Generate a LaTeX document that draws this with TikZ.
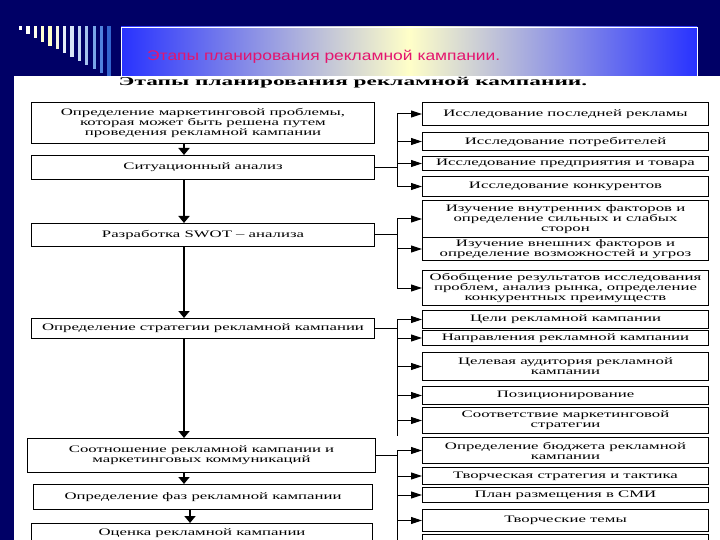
\documentclass[tikz,border=0pt]{standalone}
\usepackage{fontspec}
\setmainfont{Liberation Serif}
\newfontfamily\arialf{Liberation Sans}
\usepackage{graphicx}
\usetikzlibrary{arrows.meta}
\definecolor{navy}{RGB}{0,0,102}
\definecolor{pinkt}{RGB}{228,20,110}
\definecolor{bannerblue}{RGB}{40,50,255}
\definecolor{banneryel}{RGB}{255,255,200}
\definecolor{s0}{RGB}{255,255,255}
\definecolor{s1}{RGB}{255,255,250}
\definecolor{s2}{RGB}{255,255,235}
\definecolor{s3}{RGB}{255,255,210}
\definecolor{s4}{RGB}{255,255,200}
\definecolor{s5}{RGB}{245,245,225}
\definecolor{s6}{RGB}{230,238,248}
\definecolor{s7}{RGB}{215,228,246}
\definecolor{s8}{RGB}{195,215,242}
\definecolor{s9}{RGB}{165,195,238}
\definecolor{s10}{RGB}{120,165,232}
\definecolor{s11}{RGB}{80,130,222}
\definecolor{s12}{RGB}{50,100,205}
\newcommand\sx[1]{\scalebox{1.68}[1]{#1}}
\begin{document}
\begin{tikzpicture}[x=1bp,y=-1bp,
  bx/.style={draw=black, line width=1bp, inner sep=0pt, anchor=north west, align=center,
             font=\fontsize{10}{10}\selectfont},
  mainarrow/.style={line width=2.6bp, -{Triangle[width=11bp,length=7bp]}},
  brline/.style={line width=1bp},
  brarrow/.style={line width=1bp, -{Triangle[width=7bp,length=11bp]}}]
\useasboundingbox (0,0) rectangle (720,540);
\clip (0,0) rectangle (720,540);
% background
\fill[navy] (0,0) rectangle (720,540);
% stripes
\foreach \i in {0,...,12}{
  \fill[s\i] ({19+7.35*\i},26) rectangle ({22.3+7.35*\i},{30+3.9*\i});
}
% banner
\shade[left color=bannerblue, right color=bannerblue, middle color=banneryel] (121,27) rectangle (697,77);
\draw[white, line width=0.8bp] (121,77) -- (121,27) -- (697,27) -- (697,77);
\node[font=\arialf\fontsize{14}{14}\selectfont, text=pinkt, anchor=west, inner sep=0pt] (title) at (147,57)
  {\scalebox{1.25}[1]{Этапы планирования рекламной кампании.}};
% white page
\fill[white] (14,76) rectangle (720,540);
\node[font=\bfseries\fontsize{12}{12}\selectfont, inner sep=0pt] (head) at (353,83)
  {\scalebox{1.95}[1]{Этапы планирования рекламной кампании.}};

% left column
\node[bx, minimum width=343bp, minimum height=41bp] (L1) at (31,102)
  {\sx{Определение маркетинговой проблемы,}\\\sx{которая может быть решена путем}\\\sx{проведения рекламной кампании}};
\node[bx, minimum width=343bp, minimum height=24bp] (L2) at (31,155) {\sx{Ситуационный анализ}};
\node[bx, minimum width=343bp, minimum height=23bp] (L3) at (31,223) {\sx{Разработка SWOT -- анализа}};
\node[bx, minimum width=343bp, minimum height=20bp] (L4) at (31,318) {\sx{Определение стратегии рекламной кампании}};
\node[bx, minimum width=348bp, minimum height=34bp] (L5) at (27,438)
  {\sx{Соотношение рекламной кампании и}\\\sx{маркетинговых коммуникаций}};
\node[bx, minimum width=339bp, minimum height=25bp] (L6) at (33,484) {\sx{Определение фаз рекламной кампании}};
\node[bx, minimum width=341bp, minimum height=20bp] (L7) at (31,523) {\sx{Оценка рекламной кампании}};

% right column
\node[bx, minimum width=286bp, minimum height=23bp] (R1) at (422,102) {\sx{Исследование последней рекламы}};
\node[bx, minimum width=286bp, minimum height=18bp] (R2) at (422,132) {\sx{Исследование потребителей}};
\node[bx, minimum width=286bp, minimum height=14bp] (R3) at (422,156) {\sx{Исследование предприятия и товара}};
\node[bx, minimum width=286bp, minimum height=20bp] (R4) at (422,176) {\sx{Исследование конкурентов}};
\node[bx, minimum width=286bp, minimum height=37bp] (R5) at (422,200)
  {\sx{Изучение внутренних факторов и}\\\sx{определение сильных и слабых}\\\sx{сторон}};
\node[bx, minimum width=286bp, minimum height=23bp] (R6) at (422,237)
  {\sx{Изучение внешних факторов и}\\\sx{определение возможностей и угроз}};
\node[bx, minimum width=286bp, minimum height=35bp] (R7) at (422,270)
  {\sx{Обобщение результатов исследования}\\\sx{проблем, анализ рынка, определение}\\\sx{конкурентных преимуществ}};
\node[bx, minimum width=286bp, minimum height=18bp] (R8) at (422,310) {\sx{Цели рекламной кампании}};
\node[bx, minimum width=286bp, minimum height=15bp] (R9) at (422,330) {\sx{Направления рекламной кампании}};
\node[bx, minimum width=286bp, minimum height=28bp] (R10) at (422,352)
  {\sx{Целевая аудитория рекламной}\\\sx{кампании}};
\node[bx, minimum width=286bp, minimum height=18bp] (R11) at (422,386) {\sx{Позиционирование}};
\node[bx, minimum width=286bp, minimum height=26bp] (R12) at (422,407)
  {\sx{Соответствие маркетинговой}\\\sx{стратегии}};
\node[bx, minimum width=286bp, minimum height=26bp] (R13) at (422,437)
  {\sx{Определение бюджета рекламной}\\\sx{кампании}};
\node[bx, minimum width=286bp, minimum height=17bp] (R14) at (422,467) {\sx{Творческая стратегия и тактика}};
\node[bx, minimum width=286bp, minimum height=15bp] (R15) at (422,487) {\sx{План размещения в СМИ}};
\node[bx, minimum width=286bp, minimum height=22bp] (R16) at (422,509) {\sx{Творческие темы}};
\node[bx, minimum width=286bp, minimum height=26bp] (R17) at (422,534) {};

% main arrows
\coordinate (ax) at (184,0);
\coordinate (bx2) at (190,0);
\draw[mainarrow] (L1.south -| ax) -- (L2.north -| ax);
\draw[mainarrow] (L2.south -| ax) -- (L3.north -| ax);
\draw[mainarrow] (L3.south -| ax) -- (L4.north -| ax);
\draw[mainarrow] (L4.south -| ax) -- (L5.north -| ax);
\draw[mainarrow] (L5.south -| ax) -- (L6.north -| ax);
\draw[mainarrow] (L6.south -| bx2) -- (L7.north -| bx2);

% brackets
\coordinate (sp) at (397,0);
% group A
\draw[brline] (L2.east) -- (L2.east -| sp);
\draw[brline] (R1.west -| sp) -- (R4.west -| sp);
\foreach \r in {R1,R2,R3,R4} \draw[brarrow] (\r.west -| sp) -- (\r.west);
% group B
\draw[brline] (L3.east) -- (L3.east -| sp);
\draw[brline] (R5.west -| sp) -- (R7.west -| sp);
\foreach \r in {R5,R6,R7} \draw[brarrow] (\r.west -| sp) -- (\r.west);
% group C
\draw[brline] (L4.east) -- (L4.east -| sp);
\draw[brline] (R8.west -| sp) -- (397,436);
\foreach \r in {R8,R9,R10,R11,R12} \draw[brarrow] (\r.west -| sp) -- (\r.west);
% group D
\draw[brline] (L5.east) -- (L5.east -| sp);
\draw[brline] (R13.west -| sp) -- (R17.west -| sp);
\foreach \r in {R13,R14,R15,R16} \draw[brarrow] (\r.west -| sp) -- (\r.west);
\end{tikzpicture}
\end{document}
